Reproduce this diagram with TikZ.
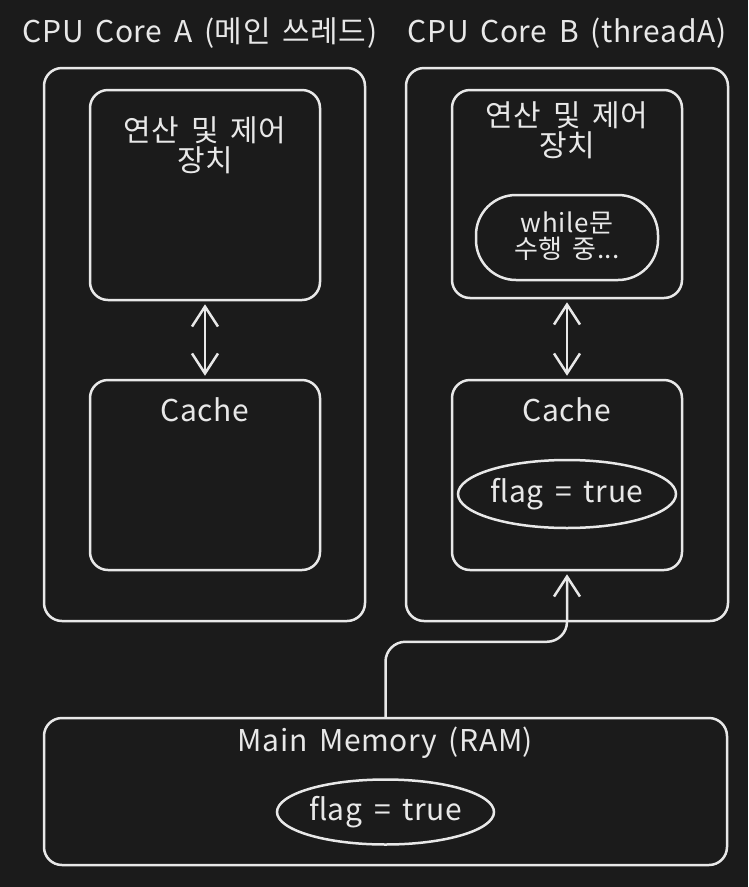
\documentclass[tikz,border=0pt]{standalone}
\usepackage{fontspec}
\setmainfont[WordSpace=1.6, LetterSpace=2]{Noto Sans CJK KR}
\usepackage{tikz}
\usetikzlibrary{arrows.meta, shapes.geometric, positioning}

\definecolor{bgdark}{RGB}{27,27,27}
\definecolor{inkwhite}{RGB}{232,232,232}

\begin{document}
\begin{tikzpicture}[
  x=1pt, y=-1pt,
  every node/.style={text=inkwhite, font=\fontsize{30}{30}\selectfont},
  box/.style={draw=inkwhite, line width=2.5pt, rounded corners=18pt, inner sep=0pt},
  oval/.style={ellipse, draw=inkwhite, line width=2.5pt, inner sep=0pt},
  pill/.style={draw=inkwhite, line width=2.5pt, rounded corners=40pt, inner sep=0pt},
  link/.style={draw=inkwhite, line width=2.5pt, line cap=round,
    arrows={Straight Barb[length=20pt,width=26pt,line width=2.5pt]-Straight Barb[length=20pt,width=26pt,line width=2.5pt]},
    shorten >=3pt, shorten <=3pt},
  feed/.style={draw=inkwhite, line width=2.5pt, line cap=round, rounded corners=20pt,
    -{Straight Barb[length=20pt,width=26pt,line width=2.5pt]}, shorten >=3pt}
]
  \fill[bgdark] (0,0) rectangle (748,887);
  \useasboundingbox (0,0) rectangle (748,887);

  % titles
  \node (titleA) at (200,33) {CPU Core A (메인 쓰레드)};
  \node (titleB) at (567,33) {CPU Core B (threadA)};

  % core A
  \node[box, minimum width=321pt, minimum height=553pt] (coreA) at (204.5,344.5) {};
  \node[box, minimum width=230pt, minimum height=210pt] (aluA) at (205,195) {};
  \node[box, minimum width=230pt, minimum height=190pt] (cacheA) at (205,475) {};
  \node[align=center] (aluAtxt) at (205,145) {연산 및 제어\\장치};
  \node (cacheAtxt) at (205,410) {Cache};

  % core B
  \node[box, minimum width=322pt, minimum height=553pt] (coreB) at (567,344.5) {};
  \node[box, minimum width=230pt, minimum height=208pt] (aluB) at (567,194) {};
  \node[box, minimum width=230pt, minimum height=190pt] (cacheB) at (567,475) {};
  \node[align=center] (aluBtxt) at (567,130) {연산 및 제어\\장치};
  \node[pill, minimum width=182pt, minimum height=85pt] (loopB) at (567,237.5) {};
  \node[align=center, font=\fontsize{26}{26}\selectfont] (loopBtxt) at (567,236) {while문\\수행 중...};
  \node (cacheBtxt) at (567,410) {Cache};
  \node[oval, minimum width=218pt, minimum height=68pt] (flagB) at (567,494) {flag = true};

  % memory
  \node[box, minimum width=683pt, minimum height=147pt] (ram) at (385.5,791.5) {};
  \node (ramtxt) at (385.5,743) {Main Memory (RAM)};
  \node[oval, minimum width=217pt, minimum height=65pt] (flagM) at (385.5,812) {flag = true};

  % connectors
  \draw[link] (aluA) -- (cacheA);
  \draw[link] (aluB) -- (cacheB);
  \draw[feed] (ram.north) -- ++(0,-75) -| (cacheB.south);
\end{tikzpicture}
\end{document}
